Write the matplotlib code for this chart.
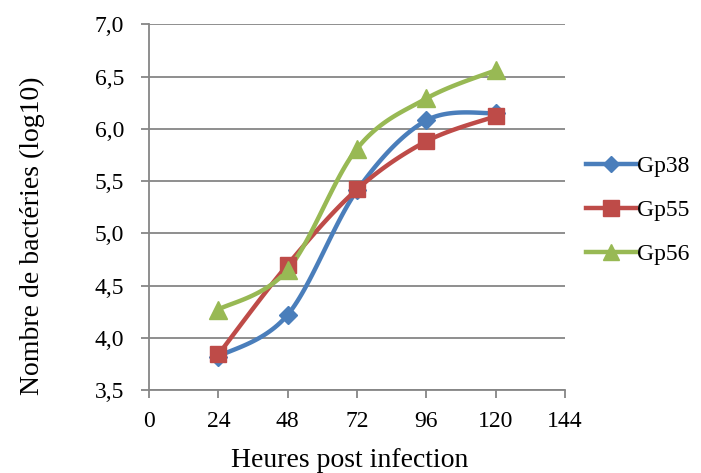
import numpy as np
import matplotlib.pyplot as plt

plt.rcParams['font.family'] = ['Liberation Serif', 'DejaVu Serif']

hours = [24, 48, 72, 96, 120]
gp38 = [3.82, 4.22, 5.41, 6.08, 6.15]
gp55 = [3.84, 4.70, 5.42, 5.88, 6.12]
gp56 = [4.27, 4.65, 5.81, 6.29, 6.56]

series = [
    ("Gp38", gp38, "#4A7EBB", "D", 9.5),
    ("Gp55", gp55, "#BE4B48", "s", 12),
    ("Gp56", gp56, "#98B954", "^", 12.5),
]


def smooth(x, y, n=30):
    # bezier like Excel's smoothed line
    x = np.asarray(x, float)
    y = np.asarray(y, float)
    px = np.concatenate([[x[0]], x, [x[-1]]])
    py = np.concatenate([[y[0]], y, [y[-1]]])
    xs, ys = [], []
    t = np.linspace(0, 1, n)
    for i in range(1, len(px) - 2):
        p0 = np.array([px[i], py[i]])
        p3 = np.array([px[i + 1], py[i + 1]])
        p1 = p0 + (np.array([px[i + 1], py[i + 1]]) - np.array([px[i - 1], py[i - 1]])) / 6
        p2 = p3 - (np.array([px[i + 2], py[i + 2]]) - np.array([px[i], py[i]])) / 6
        b = ((1 - t) ** 3)[:, None] * p0 + (3 * (1 - t) ** 2 * t)[:, None] * p1 \
            + (3 * (1 - t) * t ** 2)[:, None] * p2 + (t ** 3)[:, None] * p3
        xs.extend(b[:, 0])
        ys.extend(b[:, 1])
    return xs, ys


fig = plt.figure(figsize=(7.01, 4.73), dpi=100)
ax = fig.add_axes([0.2126, 0.1755, 0.5934, 0.7731])

for name, vals, col, mk, ms in series:
    sx, sy = smooth(hours, vals)
    ax.plot(sx, sy, color=col, lw=3.2, solid_capstyle='round', zorder=3)
    ax.plot(hours, vals, ls='none', marker=mk, ms=ms, color=col, zorder=4)
    ax.plot([], [], color=col, lw=3.2, marker=mk, ms=ms - 1, label=name)

ax.set_xlim(0, 144)
ax.set_ylim(3.5, 7.0)
ax.set_xticks(range(0, 145, 24))
yt = np.arange(3.5, 7.01, 0.5)
ax.set_yticks(yt)
ax.set_yticklabels([f"{v:.1f}".replace('.', ',') for v in yt])
ax.yaxis.grid(True, color='#868686', lw=1.3)
ax.set_axisbelow(True)
for s in ['top', 'right']:
    ax.spines[s].set_visible(False)
for s in ['left', 'bottom']:
    ax.spines[s].set_color('#868686')
    ax.spines[s].set_linewidth(1.3)
ax.tick_params(axis='both', color='#868686', width=1.3, length=6, labelsize=17)
ax.tick_params(axis='y', pad=12)
ax.tick_params(axis='x', pad=9)

ax.set_xlabel("Heures post infection", fontsize=20)
ax.set_ylabel("Nombre de bactéries (log10)", fontsize=20)
ax.xaxis.set_label_coords(0.483, -0.158)
ax.yaxis.set_label_coords(-0.25, 0.421)

fig.legend(loc='center left', bbox_to_anchor=(0.836, 0.555), frameon=False,
           borderpad=0, borderaxespad=0,
           fontsize=17, handlelength=2.1, handletextpad=0.05, labelspacing=0.95)

fig.savefig("out.png", dpi=100)
